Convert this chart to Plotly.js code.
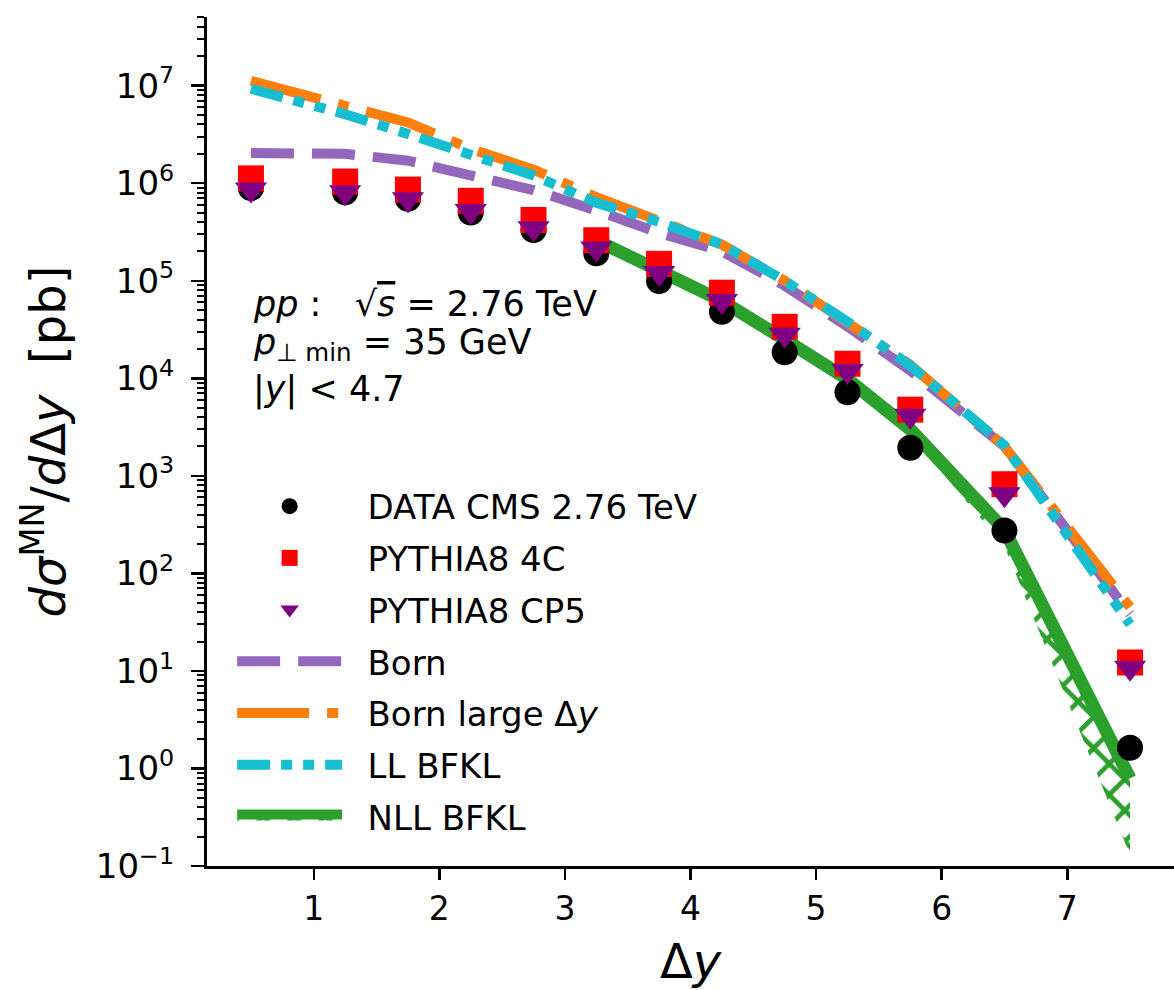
<!DOCTYPE html>
<html><head><meta charset="utf-8">
<script src="https://cdn.plot.ly/plotly-3.0.1.min.js"></script>
<style>html,body{margin:0;padding:0;background:#fff;} #chart{width:1174px;height:990px;}</style>
</head><body><div id="chart"></div>
<script>
// Delta y bin centres
const binCenters = [0.5, 1.25, 1.75, 2.25, 2.75, 3.25, 3.75, 4.25, 4.75, 5.25, 5.75, 6.5, 7.5];
// measured / generated cross sections [pb]
const dataCMS   = [8.9e5, 8.05e5, 6.9e5, 5.0e5, 3.3e5, 1.91e5, 9.9e4, 4.8e4, 1.85e4, 7.2e3, 1.94e3, 275, 1.63];
const pythia4C  = [1.12e6, 1.04e6, 8.6e5, 6.6e5, 4.2e5, 2.6e5, 1.49e5, 7.55e4, 3.37e4, 1.41e4, 4.77e3, 820, 12.2];
const pythiaCP5 = [8.6e5, 8.1e5, 6.86e5, 5.2e5, 3.46e5, 2.14e5, 1.2e5, 6.2e4, 2.8e4, 1.19e4, 4.13e3, 647, 10.8];
// theory curves
const born      = [2.04e6, 2.0e6, 1.7e6, 1.23e6, 8.5e5, 5.25e5, 3.1e5, 2.0e5, 8.9e4, 3.4e4, 1.2e4, 2.0e3, 38];
const bornLarge = [1.12e7, 6.2e6, 4.2e6, 2.25e6, 1.38e6, 7.2e5, 4.2e5, 2.35e5, 1.0e5, 3.8e4, 1.38e4, 2.0e3, 45];
const llBFKL    = [9.3e6, 5.1e6, 3.2e6, 2.0e6, 1.2e6, 6.3e5, 4.0e5, 2.35e5, 1.0e5, 3.8e4, 1.35e4, 2.05e3, 30];
const nllX      = [3.25, 3.75, 4.25, 4.75, 5.25, 5.75, 6.5, 7.5];
const nllCentral= [2.6e5, 1.29e5, 6.2e4, 2.5e4, 9.8e3, 3.0e3, 280, 0.79];
const nllLower  = [2.3e5, 1.12e5, 5.4e4, 2.2e4, 8.5e3, 2.6e3, 190, 0.13];
const nllUpper  = [3.0e5, 1.48e5, 7.1e4, 2.9e4, 1.12e4, 3.4e3, 330, 0.95];
// ticks
const yTickVals = [0.1, 1, 10, 100, 1e3, 1e4, 1e5, 1e6, 1e7];
const yTickText = ['10<sup>−1</sup>', '10<sup>0</sup>', '10<sup>1</sup>', '10<sup>2</sup>', '10<sup>3</sup>',
                   '10<sup>4</sup>', '10<sup>5</sup>', '10<sup>6</sup>', '10<sup>7</sup>'];
const xTickVals = [1, 2, 3, 4, 5, 6, 7];

const F = 'DejaVu Sans, sans-serif';
const green = '#2ca02c';
const pattern = {shape: 'x', fgcolor: green, bgcolor: 'rgba(0,0,0,0)', size: 22, solidity: 0.38};
const pad = '\u2002\u200a';

const traces = [
  {x: binCenters, y: born, mode: 'lines', name: pad + 'Born', legendrank: 4, legendgroup: 'g4',
   line: {color: '#9467bd', width: 10, dash: '43px,18px'}},
  {x: binCenters, y: bornLarge, mode: 'lines', name: pad + 'Born large Δ<i>y</i>', legendrank: 5, legendgroup: 'g5',
   line: {color: '#ff7f0e', width: 10, dash: '72px,18px,11px,18px'}},
  {x: binCenters, y: llBFKL, mode: 'lines', name: pad + 'LL BFKL', legendrank: 6, legendgroup: 'g6',
   line: {color: '#17becf', width: 10, dash: '33px,11px,11px,11px,11px,11px'}},
  {x: nllX, y: nllLower, mode: 'lines', showlegend: false, hoverinfo: 'skip', legendgroup: 'g7',
   line: {color: green, width: 0}},
  {x: nllX, y: nllCentral, mode: 'lines', name: pad + 'NLL BFKL', legendrank: 7, legendgroup: 'g7',
   fill: 'tonexty', fillcolor: 'rgba(0,0,0,0)', fillpattern: pattern,
   line: {color: green, width: 13}},
  {x: nllX, y: nllUpper, mode: 'lines', showlegend: false, hoverinfo: 'skip', legendgroup: 'g7',
   fill: 'tonexty', fillcolor: 'rgba(0,0,0,0)', fillpattern: pattern,
   line: {color: green, width: 0}},
  {x: binCenters, y: dataCMS, mode: 'markers', name: pad + 'DATA CMS 2.76 TeV', legendrank: 1, legendgroup: 'g1',
   marker: {symbol: 'circle', size: 26, color: 'black'}},
  {x: binCenters, y: pythia4C, mode: 'markers', name: pad + 'PYTHIA8 4C', legendrank: 2, legendgroup: 'g2',
   marker: {symbol: 'square', size: 26, color: '#ff0000'}},
  {x: binCenters, y: pythiaCP5, mode: 'markers', name: pad + 'PYTHIA8 CP5', legendrank: 3, legendgroup: 'g3',
   marker: {symbol: 'triangle-down', size: 28, color: '#800080'}}
];

const layout = {
  width: 1174, height: 990,
  margin: {l: 207, r: 0, t: 17, b: 124},
  paper_bgcolor: 'white', plot_bgcolor: 'white',
  font: {family: F, size: 33, color: 'black'},
  showlegend: true,
  legend: {x: 0.026, y: 0.4575, xanchor: 'left', yanchor: 'top', bgcolor: 'rgba(0,0,0,0)',
           font: {family: F, size: 34, color: 'black'}, itemwidth: 105,
           traceorder: 'grouped', tracegroupgap: 4.5},
  xaxis: {range: [0.15, 7.85], tickvals: xTickVals, ticks: 'outside', ticklen: 11, tickwidth: 2.5,
          tickcolor: 'black', showline: true, linewidth: 3, linecolor: 'black', showgrid: false,
          zeroline: false, tickfont: {family: F, size: 33},
          title: {text: 'Δ<i>y</i>', font: {family: F, size: 48}, standoff: 18}},
  yaxis: {type: 'log', range: [-1, 7.704], tickvals: yTickVals, ticktext: yTickText,
          ticks: 'outside', ticklen: 13, tickwidth: 2.5, tickcolor: 'black', ticklabelstandoff: 10,
          showline: true, linewidth: 3, linecolor: 'black', showgrid: false, zeroline: false,
          tickfont: {family: F, size: 34},
          minor: {ticks: 'outside', ticklen: 7, tickwidth: 2, tickcolor: 'black', dtick: 'D1', showgrid: false},
          title: {text: '<i>dσ</i><sup>MN</sup>/<i>d</i>Δ<i>y</i>\u00a0\u00a0[pb]', font: {family: F, size: 48}, standoff: 16}},
  annotations: [
    {xref: 'paper', yref: 'paper', x: 0.046, y: 0.662, xanchor: 'left', yanchor: 'middle', showarrow: false,
     text: '<i>pp</i> :\u00a0\u00a0\u00a0√<span style="text-decoration:overline"><i>s</i></span> = 2.76 TeV', font: {family: F, size: 35}},
    {xref: 'paper', yref: 'paper', x: 0.046, y: 0.614, xanchor: 'left', yanchor: 'middle', showarrow: false,
     text: '<i>p</i><sub>⊥ min</sub> = 35 GeV', font: {family: F, size: 35}},
    {xref: 'paper', yref: 'paper', x: 0.046, y: 0.561, xanchor: 'left', yanchor: 'middle', showarrow: false,
     text: '|<i>y</i>| < 4.7', font: {family: F, size: 35}}
  ]
};

Plotly.newPlot('chart', traces, layout, {staticPlot: true, displayModeBar: false});
</script></body></html>
